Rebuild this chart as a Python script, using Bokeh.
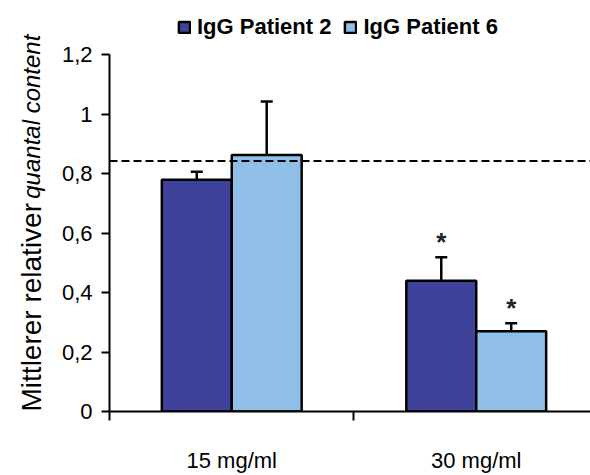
import math
from bokeh.plotting import figure
from bokeh.layouts import row
from bokeh.models import (ColumnDataSource, Range1d, FixedTicker, Whisker, TeeHead,
                          Span, CustomJSTickFormatter, Legend, LegendItem)
from bokeh.core.properties import value
from bokeh.embed import file_html
from bokeh.resources import INLINE

# ---- data ----
categories = ["15 mg/ml", "30 mg/ml"]
series = ["IgG Patient 2", "IgG Patient 6"]
patient2 = [0.78, 0.44]
patient6 = [0.863, 0.27]
patient2_err = [0.027, 0.079]
patient6_err = [0.18, 0.027]
significant2 = [False, True]
significant6 = [False, True]
reference_level = 0.843
y_ticks = [0, 0.2, 0.4, 0.6, 0.8, 1.0, 1.2]
y_title_plain = "Mittlerer relativer"
y_title_italic = "quantal content"

colors = ["#3f429a", "#8fbfe6"]
FONT = "Liberation Sans"

centers = [i + 0.5 for i in range(len(categories))]
dodge = 0.143
bar_w = 0.286

PX = 305.8  # pixels per unit of y
yr = Range1d(0, 423 / PX)

# left strip holding the mixed-style y title (frame covers the whole strip)
LW = 58
pt = figure(width=LW, height=475, output_backend="svg", toolbar_location=None,
            x_range=Range1d(0, LW), y_range=Range1d(-52 / PX, 423 / PX),
            x_axis_type=None, y_axis_type=None,
            min_border_left=0, min_border_right=0, min_border_top=0, min_border_bottom=0)
pt.outline_line_color = None
pt.xgrid.visible = False
pt.ygrid.visible = False
pt.text(x=[31], y=[0.618], text=[y_title_plain], angle=math.pi / 2, text_align="right",
        text_baseline="alphabetic", text_font=value(FONT), text_font_size="28px",
        text_color="black")
pt.text(x=[31], y=[0.634], text=[y_title_italic], angle=math.pi / 2, text_align="left",
        text_baseline="alphabetic", text_font=value(FONT), text_font_size="24px",
        text_font_style="italic", text_color="black")

p = figure(width=590 - LW, height=475, output_backend="svg", toolbar_location=None,
           x_range=Range1d(0, 482 / 245), y_range=yr,
           min_border_left=108 - LW, min_border_right=0, min_border_top=0,
           min_border_bottom=52)
p.outline_line_color = None
p.xgrid.visible = False
p.ygrid.visible = False

renderers = []
for k, (vals, errs, sig) in enumerate([(patient2, patient2_err, significant2),
                                        (patient6, patient6_err, significant6)]):
    off = -dodge if k == 0 else dodge
    xs = [c + off for c in centers]
    src = ColumnDataSource(dict(x=xs, top=vals, upper=[v + e for v, e in zip(vals, errs)]))
    r = p.vbar(x="x", top="top", width=bar_w, source=src, fill_color=colors[k],
               line_color="black", line_width=2.5)
    renderers.append(r)
    w = Whisker(base="x", upper="upper", lower="top", dimension="height", source=src,
                line_color="black", line_width=2.5,
                upper_head=TeeHead(size=12, line_width=2.5, line_color="black"),
                lower_head=None, level="underlay")
    p.add_layout(w)
    sx = [x for x, s in zip(xs, sig) if s]
    sy = [v + e + 0.05 for v, e, s in zip(vals, errs, sig) if s]
    p.text(x=sx, y=sy, text=["*"] * len(sx), text_font=value(FONT),
           text_font_style="bold", text_font_size="26px", text_align="center",
           text_baseline="middle", text_color="#222222")

p.add_layout(Span(location=reference_level, dimension="width", line_color="black",
                  line_width=2, line_dash="8 4"))

# axes
xa = p.xaxis[0]
xa.ticker = FixedTicker(ticks=centers, minor_ticks=list(range(len(categories) + 1)))
xa.major_label_overrides = {c: lab for c, lab in zip(centers, categories)}
xa.major_tick_out = 0
xa.major_tick_in = 0
xa.minor_tick_out = 9
xa.minor_tick_in = 0
xa.minor_tick_line_width = 2
xa.minor_tick_line_color = "black"
xa.axis_line_width = 2
xa.axis_line_color = "black"
xa.major_label_text_font = FONT
xa.major_label_text_font_size = "22px"
xa.major_label_text_color = "black"
xa.major_label_standoff = 27

ya = p.yaxis[0]
ya.ticker = FixedTicker(ticks=y_ticks)
ya.formatter = CustomJSTickFormatter(code="""
  let s = tick.toFixed(1).replace('.', ',');
  if (s.endsWith(',0')) s = s.slice(0, -2);
  return s;
""")
ya.bounds = (0, 1.2)
ya.major_tick_out = 8
ya.major_tick_in = 0
ya.minor_tick_out = 0
ya.minor_tick_in = 0
ya.major_tick_line_width = 2
ya.axis_line_width = 2
ya.axis_line_color = "black"
ya.major_tick_line_color = "black"
ya.major_label_text_font = FONT
ya.major_label_text_font_size = "22px"
ya.major_label_text_color = "black"
ya.major_label_standoff = 9

legend = Legend(items=[LegendItem(label=s, renderers=[r]) for s, r in zip(series, renderers)],
                orientation="horizontal", location=(68, 371), padding=0, margin=0,
                border_line_color=None, background_fill_alpha=0,
                glyph_width=14, glyph_height=14, label_standoff=6, spacing=12,
                label_text_font=FONT, label_text_font_style="bold",
                label_text_font_size="22px", label_text_color="black")
p.add_layout(legend)

layout = row(pt, p, spacing=0)
open("out.html", "w").write(file_html(layout, INLINE))
